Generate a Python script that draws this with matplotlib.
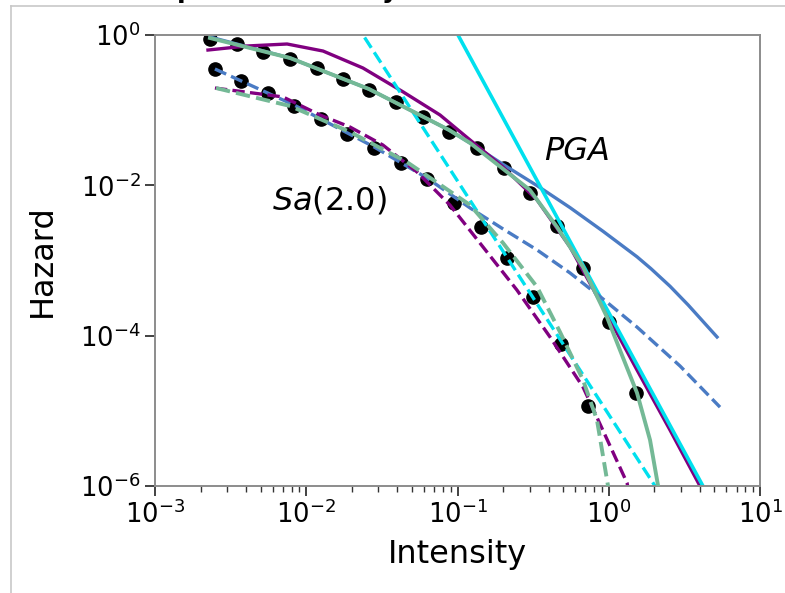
import matplotlib
matplotlib.use("Agg")
import matplotlib.pyplot as plt
from matplotlib.lines import Line2D
from matplotlib.ticker import LogLocator, NullLocator
import numpy as np

# ---- data ----
# PGA hazard data (black dots, upper set)
pga_x = [0.00231, 0.00348, 0.00518, 0.00782, 0.01178, 0.0175, 0.0260, 0.0392, 0.0591,
         0.0879, 0.1346, 0.203, 0.301, 0.455, 0.676, 1.00, 1.51]
pga_y = [0.885, 0.759, 0.594, 0.480, 0.364, 0.260, 0.186, 0.128, 0.0811,
         0.0513, 0.0314, 0.0170, 0.00791, 0.00288, 0.000795, 0.000152, 1.73e-5]

# Sa(2.0) hazard data (black dots, lower set)
sa_x = [0.00249, 0.00371, 0.00558, 0.00830, 0.01253, 0.01858, 0.0281, 0.0423, 0.0628,
        0.0948, 0.143, 0.212, 0.315, 0.483, 0.730]
sa_y = [0.353, 0.244, 0.169, 0.1136, 0.0762, 0.0482, 0.0314, 0.0198, 0.01214,
        0.00582, 0.00279, 0.00108, 0.000327, 7.75e-5, 1.16e-5]

# PGA fitted curves (solid)
pga_blue_x = [0.00231, 0.00782, 0.0260, 0.0879, 0.1211, 0.200, 0.336, 0.555, 0.916, 1.538, 1.90,
              2.54, 3.35, 5.20]
pga_blue_y = [0.941, 0.494, 0.191, 0.0545, 0.0366, 0.0190, 0.00990, 0.00505, 0.00245, 0.00112, 0.00078,
              0.000455, 0.000256, 9.6e-5]

pga_green_x = [0.00231, 0.00782, 0.0260, 0.0879, 0.1211, 0.301, 0.455, 0.676, 0.973, 1.186, 1.538, 1.875, 2.12, 2.21]
pga_green_y = [0.912, 0.494, 0.191, 0.0545, 0.0366, 0.00867, 0.00279, 0.000820, 0.000177, 6.44e-5, 1.73e-5, 4.09e-6, 1.0e-6, 6.5e-7]

pga_purple_x = [0.00224, 0.00405, 0.00747, 0.01291, 0.0237, 0.0437, 0.0766, 0.1211, 0.200, 0.336,
                0.555, 0.916, 1.538, 2.54, 4.01, 4.30]
pga_purple_y = [0.631, 0.714, 0.759, 0.612, 0.364, 0.175, 0.0863, 0.0401, 0.01754, 0.00638,
                0.00151, 0.000241, 3.49e-5, 5.56e-6, 1.0e-6, 7.0e-7]

pga_cyan_x = [0.090, 4.60]
pga_cyan_y = [1.52, 7.1e-7]

# Sa(2.0) fitted curves (dashed)
sa_blue_x = [0.00249, 0.00830, 0.0281, 0.0628, 0.1211, 0.200, 0.336, 0.555, 0.916, 1.538, 2.96, 5.44]
sa_blue_y = [0.353, 0.1172, 0.0324, 0.01252, 0.00500, 0.00263, 0.00138, 0.000682, 0.000308, 0.000130, 3.95e-5, 1.12e-5]

sa_green_x = [0.00253, 0.00782, 0.01945, 0.0463, 0.1211, 0.200, 0.336, 0.476, 0.676, 0.836, 0.989, 1.019]
sa_green_y = [0.197, 0.1136, 0.0513, 0.0204, 0.00547, 0.00171, 0.000444, 0.000112, 2.57e-5, 7.55e-6, 1.0e-6, 6.5e-7]

sa_purple_x = [0.00249, 0.00701, 0.01233, 0.01945, 0.0321, 0.0540, 0.0891, 0.1476, 0.247, 0.409, 0.676, 1.321, 1.381]
sa_purple_y = [0.197, 0.150, 0.0863, 0.0597, 0.0344, 0.01504, 0.00547, 0.00151, 0.000405, 9.60e-5, 2.07e-5, 1.10e-6, 7.1e-7]

sa_cyan_x = [0.021, 2.20]
sa_cyan_y = [1.46, 7.7e-7]

labels_text = {"pga": "PGA", "sa": "$Sa$(2.0)"}

# ---- styling ----
BLUE = "#4a7bc4"
GREEN = "#74b996"
PURPLE = "#800080"
CYAN = "#00e0ee"

fig = plt.figure(figsize=(7.85, 5.93), dpi=100)
ax = fig.add_axes([155 / 785, 1 - 486 / 593, 605 / 785, 451 / 593])

ax.plot(pga_x, pga_y, "o", color="black", ms=9.5, zorder=1)
ax.plot(sa_x, sa_y, "o", color="black", ms=9.5, zorder=1)

lw = 2.4
ax.plot(pga_blue_x, pga_blue_y, "-", color=BLUE, lw=lw, zorder=2)
ax.plot(pga_purple_x, pga_purple_y, "-", color=PURPLE, lw=lw, zorder=2)
ax.plot(pga_cyan_x, pga_cyan_y, "-", color=CYAN, lw=lw + 0.2, zorder=2)
ax.plot(pga_green_x, pga_green_y, "-", color=GREEN, lw=lw + 0.4, zorder=3)

ax.plot(sa_blue_x, sa_blue_y, "--", color=BLUE, lw=lw, zorder=2)
ax.plot(sa_purple_x, sa_purple_y, "--", color=PURPLE, lw=lw, zorder=2)
ax.plot(sa_cyan_x, sa_cyan_y, "--", color=CYAN, lw=lw, zorder=2)
ax.plot(sa_green_x, sa_green_y, "--", color=GREEN, lw=lw + 0.4, zorder=3)

ax.set_xscale("log")
ax.set_yscale("log")
ax.set_xlim(1e-3, 1e1)
ax.set_ylim(1e-6, 1e0)
ax.set_yticks([1e-6, 1e-4, 1e-2, 1e0])
ax.yaxis.set_minor_locator(NullLocator())
ax.xaxis.set_major_locator(LogLocator(base=10, numticks=10))
ax.xaxis.set_minor_locator(LogLocator(base=10, subs=np.arange(2, 10), numticks=20))

for s in ax.spines.values():
    s.set_color("#8c8c8c")
    s.set_linewidth(1.4)
ax.tick_params(axis="both", which="major", labelsize=18.5, length=7, width=1.3, color="#333333")
ax.tick_params(axis="both", which="minor", length=4, width=1.0, color="#333333")

ax.set_xlabel("Intensity", fontsize=23, labelpad=7)
ax.set_ylabel("Hazard", fontsize=23, labelpad=16)

ax.text(0.616, 0.0286, labels_text["pga"], fontsize=23, style="italic", ha="center", va="center")
ax.text(0.01435, 0.00638, labels_text["sa"], fontsize=23, ha="center", va="center")

# cropped bold title descenders at the very top and the light frame
fig.text(186 / 785, 1 + 2 / 593, "p", fontsize=18, weight="bold", ha="center", va="baseline")
fig.text(390 / 785, 1 + 2 / 593, "y", fontsize=18, weight="bold", ha="center", va="baseline")
fx = 10.5 / 785
fy = 1 - 5.5 / 593
fig.add_artist(Line2D([fx, fx], [0, fy], transform=fig.transFigure, color="#c8c8c8", lw=1.2))
fig.add_artist(Line2D([fx, 1], [fy, fy], transform=fig.transFigure, color="#c8c8c8", lw=1.2))

fig.savefig("out.png", dpi=100)
